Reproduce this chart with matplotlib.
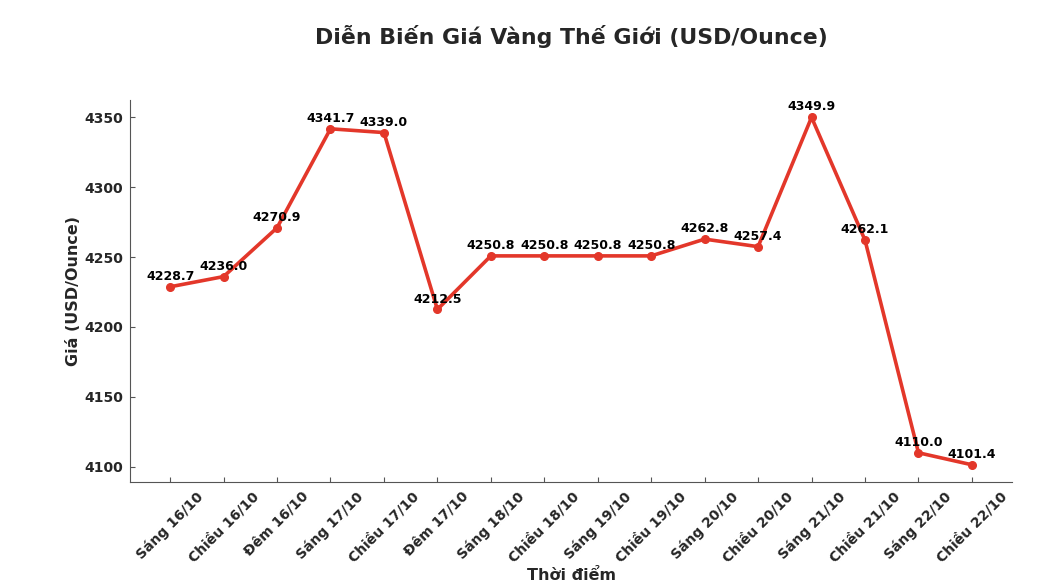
import matplotlib.pyplot as plt

times = ["Sáng 16/10", "Chiều 16/10", "Đêm 16/10", "Sáng 17/10", "Chiều 17/10",
         "Đêm 17/10", "Sáng 18/10", "Chiều 18/10", "Sáng 19/10", "Chiều 19/10",
         "Sáng 20/10", "Chiều 20/10", "Sáng 21/10", "Chiều 21/10", "Sáng 22/10",
         "Chiều 22/10"]
prices = [4228.7, 4236.0, 4270.9, 4341.7, 4339.0, 4212.5, 4250.8, 4250.8,
          4250.8, 4250.8, 4262.8, 4257.4, 4349.9, 4262.1, 4110.0, 4101.4]

plt.rcParams['font.family'] = ['DejaVu Sans']
text_color = "#262626"

fig = plt.figure(figsize=(10.42, 5.88), dpi=100)
ax = fig.add_axes([0.1248, 0.180, 0.8464, 0.650])

x = range(len(times))
ax.plot(x, prices, color="#e3372a", linewidth=2.6, marker="o", markersize=5.5)

for i, v in enumerate(prices):
    ax.annotate(f"{v:.1f}", (i, v), textcoords="offset points", xytext=(0, 5),
                ha="center", fontsize=9, fontweight="bold", color="black")

ax.set_xticks(list(x))
ax.set_xticklabels(times, rotation=45, ha="center",
                   fontsize=10, fontweight="bold", color=text_color)
ax.set_yticks([4100, 4150, 4200, 4250, 4300, 4350])
for lbl in ax.get_yticklabels():
    lbl.set_fontweight("bold")
    lbl.set_fontsize(10)
    lbl.set_color(text_color)

ax.spines["top"].set_visible(False)
ax.spines["right"].set_visible(False)
ax.spines["left"].set_color("#555555")
ax.spines["bottom"].set_color("#555555")
ax.tick_params(direction="in", colors="#555555", labelcolor=text_color, pad=5)

ax.set_xlabel("Thời điểm", fontsize=11.5, fontweight="bold", color=text_color, labelpad=2)
ax.set_ylabel("Giá (USD/Ounce)", fontsize=11.5, fontweight="bold", color=text_color,
              labelpad=2)
ax.set_title("Diễn Biến Giá Vàng Thế Giới (USD/Ounce)", fontsize=15.8,
             fontweight="bold", color=text_color, pad=40)

fig.savefig("out.png", dpi=100)
